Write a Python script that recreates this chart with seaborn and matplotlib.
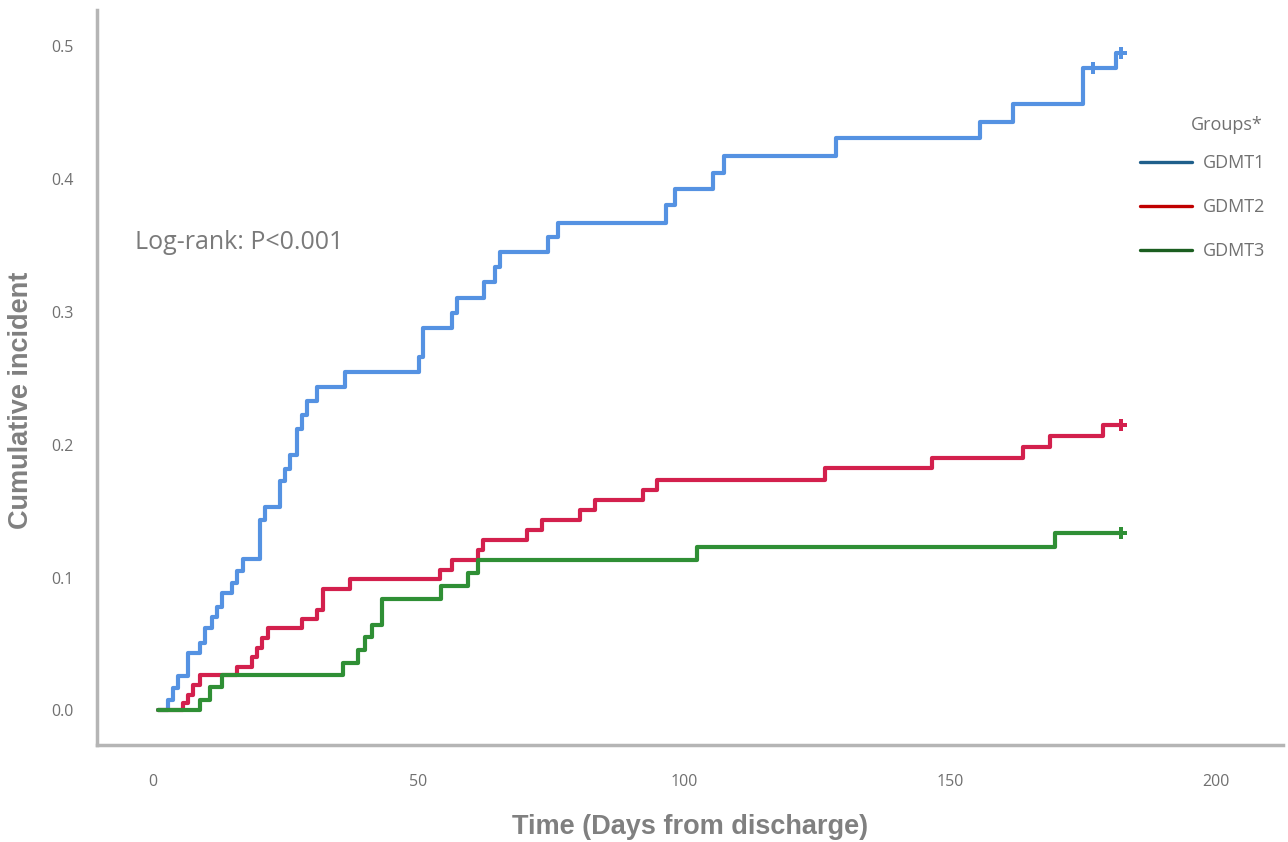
import matplotlib
matplotlib.use("Agg")
import matplotlib.pyplot as plt
from matplotlib.lines import Line2D
import pandas as pd
import seaborn as sns

# step times (days) and cumulative incidence after each step
gdmt1_days = [1, 2.8, 3.8, 4.7, 6.6, 8.8, 9.8, 11.1, 12.0, 13.0, 14.9, 15.8, 16.9, 20.1, 21.1,
              23.9, 24.8, 25.8, 27.1, 28.0, 29.0, 30.9, 36.1, 50.1, 50.8, 56.3, 57.2, 62.3,
              64.4, 65.3, 74.3, 76.2, 96.6, 98.2, 105.4, 107.5, 128.6, 155.7, 161.9, 175.0,
              181.3, 182.2]
gdmt1_vals = [0.0, 0.0075, 0.0166, 0.0256, 0.043, 0.051, 0.062, 0.070, 0.078, 0.088, 0.096,
              0.105, 0.114, 0.143, 0.153, 0.173, 0.182, 0.192, 0.212, 0.222, 0.233, 0.243,
              0.255, 0.266, 0.288, 0.299, 0.310, 0.322, 0.334, 0.345, 0.356, 0.367, 0.380,
              0.392, 0.404, 0.417, 0.431, 0.443, 0.456, 0.483, 0.495, 0.495]

gdmt2_days = [1, 5.6, 6.6, 7.5, 8.8, 15.8, 18.6, 19.6, 20.5, 21.6, 28.0, 30.9, 32.0, 37.1,
              54.0, 56.3, 61.2, 62.1, 70.4, 73.2, 80.4, 83.2, 92.2, 94.9, 126.5, 146.6,
              163.7, 168.8, 178.8, 182.2]
gdmt2_vals = [0.0, 0.0053, 0.0113, 0.0188, 0.0264, 0.0324, 0.0399, 0.0467, 0.0542, 0.0617,
              0.0685, 0.0753, 0.0911, 0.0986, 0.1054, 0.1130, 0.1205, 0.1280, 0.1355,
              0.1431, 0.1506, 0.1581, 0.1657, 0.1732, 0.1822, 0.1898, 0.1980, 0.2063,
              0.2146, 0.2146]

gdmt3_days = [1, 8.8, 10.7, 13.0, 35.8, 38.6, 39.9, 41.2, 43.1, 54.2, 59.3, 61.2, 102.4,
              169.8, 182.2]
gdmt3_vals = [0.0, 0.0075, 0.0173, 0.0264, 0.0354, 0.0452, 0.055, 0.064, 0.0836, 0.0934,
              0.1032, 0.1130, 0.1227, 0.1333, 0.1333]

# censoring marks
cens_group = ["GDMT1", "GDMT1", "GDMT2", "GDMT3"]
cens_days = [177.0, 182.2, 182.2, 182.2]
cens_vals = [0.483, 0.495, 0.2146, 0.1333]

groups = ["GDMT1", "GDMT2", "GDMT3"]
line_colors = ["#5592e2", "#d3204d", "#2f8f35"]
legend_colors = ["#1f5f8b", "#c00000", "#1b5e20"]

frames = []
for g, d, v in zip(groups, [gdmt1_days, gdmt2_days, gdmt3_days],
                   [gdmt1_vals, gdmt2_vals, gdmt3_vals]):
    frames.append(pd.DataFrame({"Time": d, "Incidence": v, "Group": g}))
df = pd.concat(frames, ignore_index=True)
cens = pd.DataFrame({"Time": cens_days, "Incidence": cens_vals, "Group": cens_group})

sns.set_style("white")
plt.rcParams["font.family"] = ["Open Sans", "DejaVu Sans"]

fig = plt.figure(figsize=(12.88, 8.42), dpi=100)
ax = fig.add_axes([97 / 1288, 1 - 745 / 842, (1283 - 97) / 1288, (745 - 10) / 842])

pal = dict(zip(groups, line_colors))
sns.lineplot(data=df, x="Time", y="Incidence", hue="Group", palette=pal,
             estimator=None, sort=False, drawstyle="steps-post", linewidth=3.0,
             legend=False, ax=ax)
sns.scatterplot(data=cens, x="Time", y="Incidence", hue="Group", palette=pal,
                marker="P", s=75, linewidth=0, legend=False, ax=ax)

ax.set_xlim(-10.5, 212.7)
ax.set_ylim(-0.026, 0.527)
ax.set_xticks([0, 50, 100, 150, 200])
ax.set_yticks([0.0, 0.1, 0.2, 0.3, 0.4, 0.5])
ax.set_yticklabels(["0.0", "0.1", "0.2", "0.3", "0.4", "0.5"])
ax.tick_params(axis="both", length=0, labelsize=11.5, labelcolor="#707070")
ax.tick_params(axis="x", pad=21)
ax.tick_params(axis="y", pad=17)

for s in ["top", "right"]:
    ax.spines[s].set_visible(False)
for s in ["left", "bottom"]:
    ax.spines[s].set_color("#b5b5b5")
    ax.spines[s].set_linewidth(2.5)

ax.set_xlabel("Time (Days from discharge)", fontsize=19.5, fontweight="bold",
              color="#808080", family=["Liberation Sans", "DejaVu Sans"], labelpad=17)
ax.set_ylabel("Cumulative incident", fontsize=19.5, fontweight="bold", color="#808080",
              family=["Liberation Sans", "DejaVu Sans"], va="center")
ax.yaxis.set_label_coords(-0.064, 0.469)

ax.text(0.032, 0.683, "Log-rank: P<0.001", transform=ax.transAxes, fontsize=18,
        color="#7a7a7a", va="center", ha="left")

fig.text(1263 / 1288, 1 - 125 / 842, "Groups*", fontsize=13, color="#707070",
         ha="right", va="center")
handles = [Line2D([0], [0], color=c, lw=2.4) for c in legend_colors]
fig.legend(handles, groups, loc="upper left", bbox_to_anchor=(1140 / 1288, 1 - 154 / 842),
           frameon=False, fontsize=13, labelcolor="#707070", handlelength=2.9,
           handletextpad=0.6, labelspacing=1.45, borderpad=0, borderaxespad=0)

fig.savefig("out.png", dpi=100, facecolor="white")
